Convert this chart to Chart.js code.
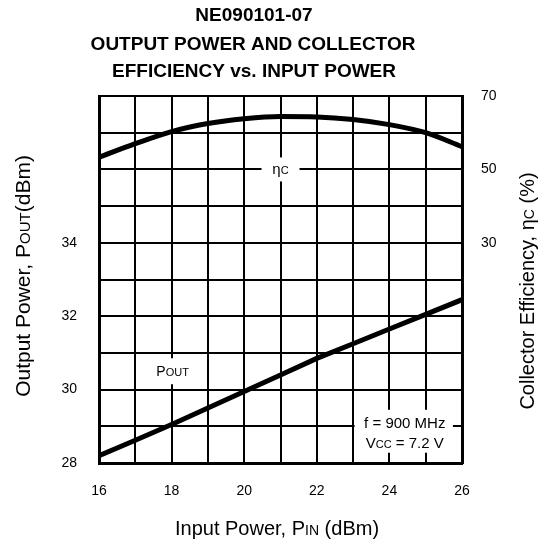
<!DOCTYPE html>
<html>
<head>
<meta charset="utf-8">
<script src="https://cdn.jsdelivr.net/npm/chart.js@4/dist/chart.umd.min.js"></script>
<style>
  html, body { margin: 0; padding: 0; background: #fff; }
</style>
</head>
<body>
<canvas id="chart" width="547" height="546"></canvas>
<script>
// values
const inputPower = [16, 17, 18, 19, 20, 21, 22, 23, 24, 25, 26];        // dBm
const outputPower = [28.2, 28.62, 29.05, 29.5, 29.95, 30.4, 30.85, 31.25, 31.65, 32.05, 32.45]; // dBm
const efficiency = [53.3, 57.0, 60.3, 62.5, 63.8, 64.4, 64.3, 63.6, 62.2, 60.0, 56.2]; // %
const xTickLabels = [16, 18, 20, 22, 24, 26];
const poutTickLabels = [28, 30, 32, 34];
const effTickLabels = [30, 50, 70];

const FONT = "'Liberation Sans', Arial, Helvetica, sans-serif";

// draws a run of text pieces with different sizes, centred on (x, y)
function drawRich(ctx, parts, x, y, rotate) {
  ctx.save();
  ctx.translate(x, y);
  if (rotate) ctx.rotate(rotate);
  let total = 0;
  parts.forEach((p) => {
    ctx.font = `${p.bold ? "bold " : ""}${p.size}px ${FONT}`;
    p.w = ctx.measureText(p.t).width;
    total += p.w;
  });
  let cx = -total / 2;
  ctx.fillStyle = "#000";
  ctx.textBaseline = "alphabetic";
  ctx.textAlign = "left";
  parts.forEach((p) => {
    ctx.font = `${p.bold ? "bold " : ""}${p.size}px ${FONT}`;
    ctx.fillText(p.t, cx, 0);
    cx += p.w;
  });
  ctx.restore();
}

const labelsPlugin = {
  id: "labels",
  afterDatasetsDraw(chart) {
    const { ctx, scales } = chart;
    const x = scales.x, y = scales.y, y1 = scales.y1;
    ctx.save();
    ctx.fillStyle = "#fff";

    // eta_c label sitting on the 50 % line
    let px = x.getPixelForValue(21), py = y1.getPixelForValue(50);
    ctx.fillRect(px - 19, py - 12, 38, 24);
    drawRich(ctx, [{ t: "η", size: 15 }, { t: "C", size: 11 }], px, py + 5);

    // Pout label
    px = x.getPixelForValue(18); py = y.getPixelForValue(30.5);
    ctx.fillStyle = "#fff";
    ctx.fillRect(px - 20, py - 13, 44, 26);
    drawRich(ctx, [{ t: "P", size: 14 }, { t: "OUT", size: 11 }], px + 1, py + 5);

    // test conditions box (left edge is the 23 dBm grid line)
    const bx0 = x.getPixelForValue(23) + 1.5, bx1 = x.getPixelForValue(25.75);
    const by0 = y.getPixelForValue(29.45), by1 = y.getPixelForValue(28.28);
    ctx.fillStyle = "#fff";
    ctx.fillRect(bx0, by0, bx1 - bx0, by1 - by0);
    const bcx = (bx0 + bx1) / 2 + 1;
    drawRich(ctx, [{ t: "f = 900 MHz", size: 15 }], bcx, y.getPixelForValue(29.1) + 5);
    drawRich(ctx, [{ t: "V", size: 15 }, { t: "CC", size: 11 }, { t: " = 7.2 V", size: 15 }],
      bcx, y.getPixelForValue(28.55) + 5);
    ctx.restore();
  },
  afterDraw(chart) {
    const { ctx } = chart;
    // title
    drawRich(ctx, [{ t: "NE090101-07", size: 19, bold: true }], 254, 21);
    drawRich(ctx, [{ t: "OUTPUT POWER AND COLLECTOR", size: 19, bold: true }], 253, 50);
    drawRich(ctx, [{ t: "EFFICIENCY vs. INPUT POWER", size: 19, bold: true }], 254, 77);
    // axis titles
    drawRich(ctx, [{ t: "Input Power, P", size: 20 }, { t: "IN", size: 14 }, { t: " (dBm)", size: 20 }], 277, 535);
    drawRich(ctx, [{ t: "Output Power, P", size: 21 }, { t: "OUT", size: 15 }, { t: "(dBm)", size: 21 }], 29.5, 276, -Math.PI / 2);
    drawRich(ctx, [{ t: "Collector Efficiency, η", size: 20 }, { t: "C", size: 14 }, { t: " (%)", size: 20 }], 534, 291, -Math.PI / 2);
  },
};

const tickFont = { family: FONT, size: 14 };

new Chart(document.getElementById("chart"), {
  type: "line",
  data: {
    datasets: [
      {
        label: "Pout",
        data: inputPower.map((v, i) => ({ x: v, y: outputPower[i] })),
        yAxisID: "y",
        borderColor: "#000",
        borderWidth: 5,
        pointRadius: 0,
        tension: 0,
      },
      {
        label: "ηc",
        data: inputPower.map((v, i) => ({ x: v, y: efficiency[i] })),
        yAxisID: "y1",
        borderColor: "#000",
        borderWidth: 5,
        pointRadius: 0,
        cubicInterpolationMode: "monotone",
      },
    ],
  },
  options: {
    responsive: false,
    animation: false,
    devicePixelRatio: 1,
    layout: { padding: { top: 96, left: 0, right: 0, bottom: 0 } },
    plugins: { legend: { display: false }, title: { display: false }, tooltip: { enabled: false } },
    scales: {
      x: {
        type: "linear",
        min: 16,
        max: 26,
        ticks: {
          stepSize: 1,
          autoSkip: false,
          maxRotation: 0,
          padding: 20,
          color: "#000",
          font: tickFont,
          callback: (v) => (xTickLabels.includes(v) ? v : ""),
        },
        grid: { color: "#000", lineWidth: 2, drawTicks: false },
        border: { display: true, color: "#000", width: 3 },
        afterFit: (s) => { s.height = 83; },
      },
      y: {
        position: "left",
        min: 28,
        max: 38,
        ticks: {
          stepSize: 1,
          autoSkip: false,
          padding: 22,
          color: "#000",
          font: tickFont,
          callback: (v) => (poutTickLabels.includes(v) ? v : ""),
        },
        grid: { color: "#000", lineWidth: 2, drawTicks: false },
        border: { display: true, color: "#000", width: 3 },
        afterFit: (s) => { s.width = 99; },
      },
      y1: {
        position: "right",
        min: -30,
        max: 70,
        ticks: {
          stepSize: 10,
          autoSkip: false,
          padding: 19,
          color: "#000",
          font: tickFont,
          callback: (v) => (effTickLabels.includes(v) ? v : ""),
        },
        grid: { display: false, drawTicks: false },
        border: { display: true, color: "#000", width: 3 },
        afterFit: (s) => { s.width = 85; },
      },
    },
  },
  plugins: [labelsPlugin],
});
</script>
</body>
</html>
